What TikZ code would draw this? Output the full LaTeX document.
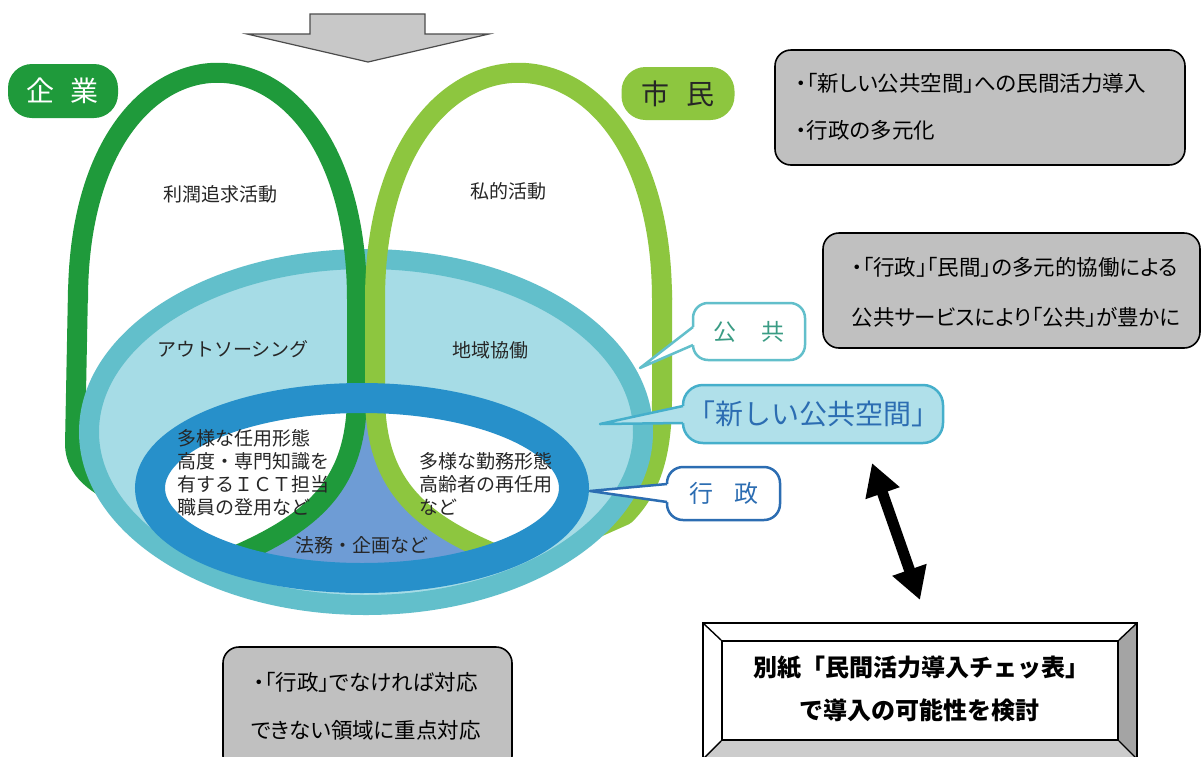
\documentclass[tikz,border=0pt]{standalone}
\usepackage{fontspec}
\setmainfont{Noto Sans CJK JP}
\newfontfamily\jpp[RawFeature=+palt]{Noto Sans CJK JP}
\usetikzlibrary{arrows.meta}
\definecolor{dgreen}{HTML}{1F9A3B}
\definecolor{limeg}{HTML}{8DC63F}
\definecolor{ringteal}{HTML}{62BFCB}
\definecolor{lightblue}{HTML}{A6DCE6}
\definecolor{dblue}{HTML}{2790CA}
\definecolor{slateb}{HTML}{6E9CD5}
\definecolor{boxgray}{HTML}{C0C0C0}
\definecolor{arrowgray}{HTML}{C8C8C8}
\definecolor{callblue}{HTML}{2C6DB2}
\definecolor{callfill}{HTML}{B0E0EA}
\definecolor{callborder}{HTML}{45AFCB}
\definecolor{kokyotext}{HTML}{3A9C84}
\definecolor{bevelR}{HTML}{A4A4A4}
\definecolor{bevelB}{HTML}{CCCCCC}
\tikzset{
  lbl/.style={font=\fontsize{19pt}{23pt}\selectfont, text=black!85, inner sep=0pt},
  graybox/.style={draw=black, line width=1.6pt, fill=boxgray, rounded corners=16pt, inner sep=0pt},
  graytext/.style={font=\jpp\fontsize{21.5pt}{26pt}\selectfont, text=black, inner sep=0pt},
  pill/.style={rounded corners=24pt, minimum width=112pt, minimum height=54pt, inner sep=0pt, font=\fontsize{28pt}{30pt}\selectfont},
  callout/.style={line width=2.5pt, inner sep=0pt},
  loopline/.style={line width=20pt},
  checktext/.style={font=\bfseries\fontsize{24pt}{27pt}\selectfont, text=black, inner sep=0pt}
}
\begin{document}
\begin{tikzpicture}[x=1pt,y=-1pt]
\path[use as bounding box, clip] (0,0) rectangle (1202,756);
\fill[white] (0,0) rectangle (1202,756);

% big down arrow
\draw[fill=arrowgray, draw=black!70, line width=1.2pt] (310,14) -- (425,14) -- (425,34) -- (489,34) -- (368,62) -- (247,34) -- (310,34) -- cycle;

% loop parts lying under the outer ellipse
\draw[dgreen, loopline, line join=round] (200,540) -- (130,500) .. controls (95,485) and (76,470) .. (75,445) -- (78,290);
\draw[limeg, loopline, line join=round] (662,290) -- (662,400) .. controls (662,455) and (650,490) .. (625,515) -- (580,535);

% outer ellipse (public)
\draw[fill=lightblue, draw=ringteal, line width=20pt] (366,432) ellipse [x radius=277pt, y radius=173pt];

% inner white area
\fill[white] (362,488) ellipse [x radius=212pt, y radius=90pt];
% slate area between the legs
\begin{scope}
  \clip (362,488) ellipse [x radius=212pt, y radius=90pt];
  \fill[slateb] (357,400) .. controls (355,480) and (320,520) .. (230,558) -- (230,610) -- (500,610) -- (500,556) .. controls (412,520) and (377,480) .. (375,400) -- cycle;
\end{scope}

% loops over the outer ellipse
\draw[dgreen, loopline] (78,300) .. controls (78,-3) and (357,-3) .. (357,300) -- (357,400) .. controls (355,480) and (320,520) .. (230,558);
\draw[limeg, loopline] (500,556) .. controls (412,520) and (377,480) .. (375,400) -- (375,300) .. controls (375,-3) and (662,-3) .. (662,300);

% inner ring (administration)
\draw[dblue, line width=30pt] (362,488) ellipse [x radius=212pt, y radius=90pt];

% diagram texts
\node[lbl] (t1) at (220,194) {利潤追求活動};
\node[lbl] (t2) at (508,191) {私的活動};
\node[lbl] (t3) at (233,349) {アウトソーシング};
\node[lbl] (t4) at (490,350) {地域協働};
\node[lbl, align=left, anchor=west] (t5) at (177,472.5) {多様な任用形態\\高度・専門知識を\\有するＩＣＴ担当\\職員の登用など};
\node[lbl, align=left, anchor=west] (t6) at (419,483.5) {多様な勤務形態\\高齢者の再任用\\など};
\node[lbl] (t7) at (362,545) {法務・企画など};

% pills
\node[pill, fill=dgreen, text=white, minimum width=110pt] (kigyo) at (63,91) {企\hspace{16pt}業};
\node[pill, fill=limeg, text=black!85, minimum width=113pt, minimum height=53pt] (shimin) at (678,93.5) {市\hspace{17pt}民};

% callout: kokyo
\node[callout, draw=ringteal, fill=white, text=kokyotext, rounded corners=15pt, minimum width=112pt, minimum height=57pt, font=\fontsize{23pt}{25pt}\selectfont] (kokyo) at (749,331.5) {公\hspace{25pt}共};
\coordinate (kokyotip) at (640,368);
\fill[white] (kokyotip) -- (693,327) -- (697,327) -- (697,345) -- (693,345) -- cycle;
\draw[ringteal, line width=2.5pt, line join=round] (693,327) -- (kokyotip) -- (693,345);

% callout: new public space
\node[callout, draw=callborder, fill=callfill, text=callblue, rounded corners=20pt, minimum width=260pt, minimum height=58pt, font=\fontsize{28pt}{30pt}\selectfont] (newps) at (813,414) {「新しい公共空間」};
\coordinate (newpstip) at (600,424);
\fill[callfill] (newpstip) -- (683,406) -- (687,406) -- (687,423) -- (683,423) -- cycle;
\draw[callborder, line width=2.5pt, line join=round] (683,406) -- (newpstip) -- (683,423);

% callout: administration
\node[callout, draw=callblue, fill=white, text=callblue, rounded corners=16pt, minimum width=113pt, minimum height=53pt, font=\fontsize{24pt}{26pt}\selectfont] (gyosei) at (723.5,493.5) {行\hspace{21pt}政};
\coordinate (gyoseitip) at (590,491);
\fill[white] (gyoseitip) -- (667,484) -- (671,484) -- (671,502) -- (667,502) -- cycle;
\draw[callblue, line width=2.5pt, line join=round] (667,484) -- (gyoseitip) -- (667,502);

% gray boxes
\node[graybox, minimum width=410pt, minimum height=115pt] (box1) at (980,107.5) {};
\node[graytext, anchor=west] (box1a) at (796,83) {・「新しい公共空間」への民間活力導入};
\node[graytext, anchor=west] (box1b) at (796,130) {・行政の多元化};

\node[graybox, minimum width=377pt, minimum height=115pt] (box2) at (1011.5,290.5) {};
\node[graytext] (box2a) at (1015,267) {・「行政」「民間」の多元的協働による};
\node[graytext] (box2b) at (1016,317) {公共サービスにより「公共」が豊かに};

\node[graybox, minimum width=289pt, minimum height=125pt] (box3) at (367.5,709.5) {};
\node[graytext] (box3a) at (366,682) {・「行政」でなければ対応};
\node[graytext] (box3b) at (366,730) {できない領域に重点対応};

% bevel box
\fill[white] (703,623) -- (1137,623) -- (1118,641) -- (722,641) -- cycle;
\fill[white] (703,623) -- (722,641) -- (722,740) -- (703,759) -- cycle;
\fill[bevelR] (1137,623) -- (1137,759) -- (1118,740) -- (1118,641) -- cycle;
\fill[bevelB] (703,759) -- (1137,759) -- (1118,740) -- (722,740) -- cycle;
\node[draw=black, line width=1.8pt, fill=white, minimum width=396pt, minimum height=99pt, inner sep=0pt] (chk) at (920,690.5) {};
\draw[line width=1.8pt] (703,623) rectangle (1137,759);
\draw[line width=1.4pt] (703,623) -- (chk.north west) (1137,623) -- (chk.north east) (703,759) -- (chk.south west) (1137,759) -- (chk.south east);
\node[checktext] (chka) at (921,668) {別紙「民間活力導入チェッ表」};
\node[checktext] (chkb) at (919,710) {で導入の可能性を検討};

% double arrow
\coordinate (arrA) at (872,463);
\coordinate (arrB) at (920,600);
\draw[line width=11pt, {Triangle[length=32pt,width=34pt]}-{Triangle[length=32pt,width=34pt]}] (arrA) -- (arrB);
\end{tikzpicture}
\end{document}
